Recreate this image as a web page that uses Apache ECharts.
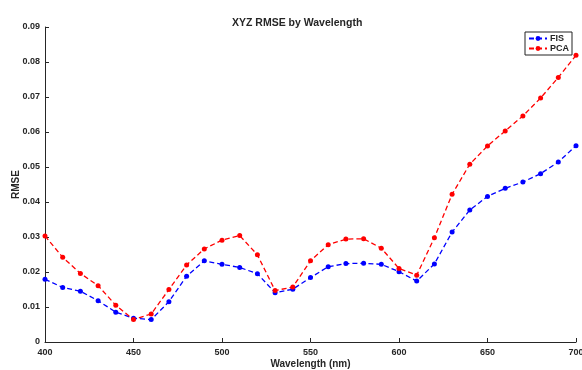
<!DOCTYPE html>
<html>
<head>
<meta charset="utf-8">
<script src="https://cdn.jsdelivr.net/npm/echarts@6/dist/echarts.min.js"></script>
<style>
  html, body { margin: 0; padding: 0; background: #fff; }
  #chart { width: 582px; height: 370px; }
</style>
</head>
<body>
<div id="chart"></div>
<script>
// Wavelength samples (nm) and RMSE per method
const wavelengths = [400,410,420,430,440,450,460,470,480,490,500,510,520,530,540,550,560,570,580,590,600,610,620,630,640,650,660,670,680,690,700];
const fisRmse = [0.0179,0.0156,0.0145,0.0118,0.0085,0.0068,0.0064,0.0115,0.0188,0.0232,0.0222,0.0213,0.0195,0.0141,0.0151,0.0184,0.0215,0.0224,0.0225,0.0222,0.0201,0.0174,0.0223,0.0314,0.0377,0.0416,0.0439,0.0457,0.0481,0.0514,0.0561];
const pcaRmse = [0.0303,0.0242,0.0196,0.0161,0.0105,0.0064,0.0080,0.0150,0.0220,0.0266,0.0291,0.0304,0.0249,0.0147,0.0157,0.0232,0.0278,0.0294,0.0295,0.0268,0.0210,0.0191,0.0298,0.0422,0.0508,0.0560,0.0603,0.0646,0.0697,0.0756,0.0819];
const seriesNames = ['FIS', 'PCA'];
const yTicks = { min: 0, max: 0.09, step: 0.01 };
const xTicks = { min: 400, max: 700, step: 50 };

const pairs = (ys) => wavelengths.map((w, i) => [w, ys[i]]);
const font = 'Arial, "Liberation Sans", Helvetica, sans-serif';
const ink = '#262626';

const chart = echarts.init(document.getElementById('chart'), null, { renderer: 'canvas' });

function lineSeries(name, data, color) {
  return {
    name, type: 'line', data,
    symbol: 'circle', symbolSize: 5,
    showSymbol: true,
    lineStyle: { color, width: 1.3, type: [5, 3] },
    itemStyle: { color },
    animation: false
  };
}

chart.setOption({
  animation: false,
  title: {
    text: 'XYZ RMSE by Wavelength',
    left: 227, top: 13,
    textStyle: { fontFamily: font, fontSize: 10.5, fontWeight: 'bold', color: ink }
  },
  legend: {
    data: seriesNames,
    orient: 'vertical',
    left: 525, top: 32,
    padding: [2, 3, 2, 3],
    itemGap: 1,
    itemWidth: 18, itemHeight: 6,
    borderColor: '#222', borderWidth: 1,
    backgroundColor: '#fff',
    textStyle: { fontFamily: font, fontSize: 9, fontWeight: 'bold', color: ink, padding: [0, 0, 0, -2] }
  },
  grid: { left: 45, right: 6, top: 27, bottom: 28, containLabel: false, outerBoundsMode: 'none' },
  xAxis: {
    type: 'value',
    min: xTicks.min, max: xTicks.max, interval: xTicks.step,
    name: 'Wavelength (nm)', nameLocation: 'middle', nameGap: 17, nameMoveOverlap: false,
    nameTextStyle: { fontFamily: font, fontSize: 10, fontWeight: 'bold', color: ink },
    axisLine: { lineStyle: { color: ink, width: 1 } },
    axisTick: { inside: true, length: 4, lineStyle: { color: ink } },
    axisLabel: { fontFamily: font, fontSize: 9, fontWeight: 'bold', color: ink, margin: 6 },
    splitLine: { show: false }
  },
  yAxis: {
    type: 'value',
    min: yTicks.min, max: yTicks.max, interval: yTicks.step,
    name: 'RMSE', nameLocation: 'middle', nameGap: 24, nameMoveOverlap: false,
    nameTextStyle: { fontFamily: font, fontSize: 10, fontWeight: 'bold', color: ink },
    axisLine: { show: true, lineStyle: { color: ink, width: 1 } },
    axisTick: { show: true, inside: true, length: 4, lineStyle: { color: ink } },
    axisLabel: {
      fontFamily: font, fontSize: 9, fontWeight: 'bold', color: ink, margin: 5,
      formatter: (v) => (v === 0 ? '0' : v.toFixed(2))
    },
    splitLine: { show: false }
  },
  series: [
    lineSeries(seriesNames[0], pairs(fisRmse), '#0000ff'),
    lineSeries(seriesNames[1], pairs(pcaRmse), '#ff0000')
  ]
});
</script>
</body>
</html>
